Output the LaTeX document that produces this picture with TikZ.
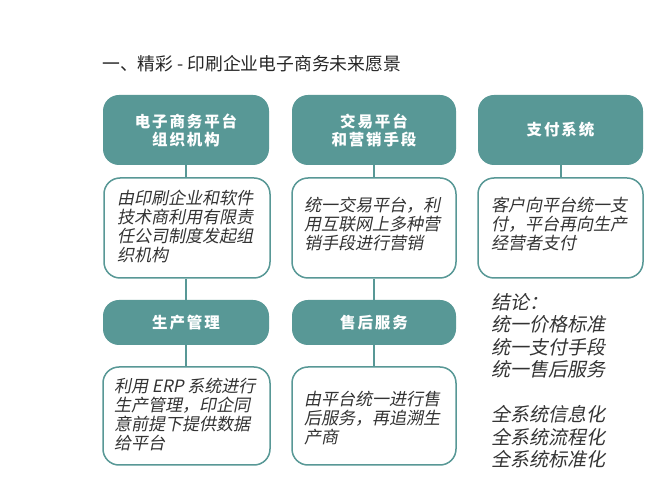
\documentclass[tikz,border=0pt]{standalone}
\usepackage{fontspec}
\newfontfamily\cjk{Noto Sans CJK SC}
\newfontfamily\cjkhead[LetterSpace=12]{Noto Sans CJK SC}
\newfontfamily\cjki[FakeSlant=0.2]{Noto Sans CJK SC}
\definecolor{teal1}{HTML}{589896}
\tikzset{
 head/.style={rounded corners=16pt, fill=teal1, draw=none, text=white, align=center, inner sep=0pt,
   font=\cjkhead\bfseries\fontsize{15.5}{18}\selectfont},
 desc/.style={rounded corners=16pt, draw=teal1, line width=1.5pt, fill=white, inner sep=0pt},
 dtext/.style={anchor=west, align=left, inner sep=0pt, text=black!80, font=\cjki\fontsize{17}{19}\selectfont},
 link/.style={draw=teal1, line width=2pt}
}
\begin{document}
\begin{tikzpicture}[x=1pt,y=-1pt]
\useasboundingbox[fill=white] (0,0) rectangle (654,502);
\node[anchor=west, inner sep=0pt, font=\cjk\fontsize{17.8}{20}\selectfont, text=black!85] (title) at (102,64) {一、精彩 - 印刷企业电子商务未来愿景};
% headers
\node[head, minimum width=166pt, minimum height=70pt] (h1) at (186,130) {电子商务平台\\组织机构};
\node[head, minimum width=164pt, minimum height=70pt] (h2) at (374,130) {交易平台\\和营销手段};
\node[head, minimum width=165pt, minimum height=70pt] (h3) at (560.5,130) {支付系统};
\node[head, minimum width=166pt, minimum height=45pt] (h4) at (186,322.5) {生产管理};
\node[head, minimum width=164pt, minimum height=45pt] (h5) at (374,322.5) {售后服务};
% description boxes
\node[desc, minimum width=166pt, minimum height=100pt] (d1) at (187,228) {};
\node[desc, minimum width=164pt, minimum height=100pt] (d2) at (374,228) {};
\node[desc, minimum width=165pt, minimum height=100pt] (d3) at (560.5,228) {};
\node[desc, minimum width=167pt, minimum height=98pt] (d4) at (186.5,416) {};
\node[desc, minimum width=164pt, minimum height=98pt] (d5) at (374,416) {};
% description texts
\node[dtext] (t1) at (117,226) {由印刷企业和软件\\技术商利用有限责\\任公司制度发起组\\织机构};
\node[dtext] (t2) at (304,224) {统一交易平台，利\\用互联网上多种营\\销手段进行营销};
\node[dtext] (t3) at (491,224) {客户向平台统一支\\付，平台再向生产\\经营者支付};
\node[dtext] (t4) at (114,415) {利用 ERP 系统进行\\生产管理，印企同\\意前提下提供数据\\给平台};
\node[dtext] (t5) at (304,418) {由平台统一进行售\\后服务，再追溯生\\产商};
% conclusion
\node[anchor=north west, align=left, inner sep=0pt, text=black!80, font=\cjki\fontsize{19}{22.5}\selectfont] (concl) at (491,293) {结论：\\统一价格标准\\统一支付手段\\统一售后服务\\[22.5pt]全系统信息化\\全系统流程化\\全系统标准化};
% connectors
\draw[link] (h1.south) -- (h1.south |- d1.north);
\draw[link] (d1.south -| h1.south) -- (h1.south |- h4.north);
\draw[link] (h4.south) -- (h4.south |- d4.north);
\draw[link] (h2.south) -- (h2.south |- d2.north);
\draw[link] (d2.south) -- (d2.south |- h5.north);
\draw[link] (h5.south) -- (h5.south |- d5.north);
\draw[link] (h3.south) -- (h3.south |- d3.north);
\end{tikzpicture}
\end{document}
